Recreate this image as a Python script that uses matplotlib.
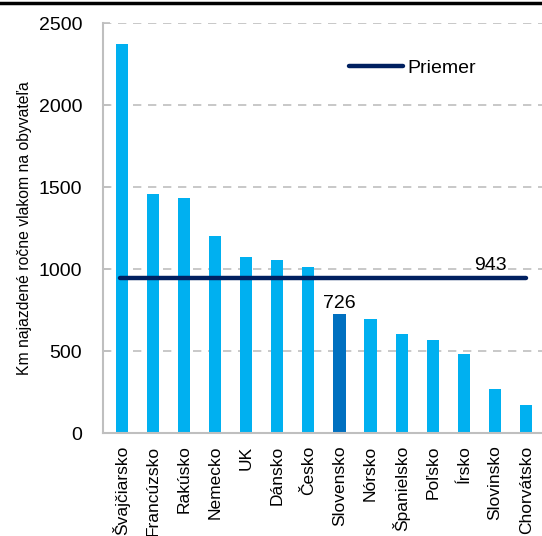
import matplotlib.pyplot as plt
import numpy as np

plt.rcParams['font.family'] = ['Liberation Sans', 'DejaVu Sans']

countries = ['Švajčiarsko', 'Francúzsko', 'Rakúsko', 'Nemecko', 'UK', 'Dánsko',
             'Česko', 'Slovensko', 'Nórsko', 'Španielsko', 'Poľsko', 'Írsko',
             'Slovinsko', 'Chorvátsko']
km_per_person = [2372, 1457, 1433, 1201, 1073, 1055, 1012, 726, 693, 606,
                 569, 482, 268, 173]
average = 943
highlight = 'Slovensko'

fig = plt.figure(figsize=(5.42, 5.36), dpi=100)
ax = fig.add_axes([0.19, 0.192, 0.81, 0.765])

x = np.arange(len(countries))
colors = ['#0070C0' if c == highlight else '#00B0F0' for c in countries]
ax.bar(x, km_per_person, width=0.39, color=colors, zorder=2)

# average line
ax.plot([x[0] - 0.05, x[-1] + 0.0], [average, average], color='#002060',
        lw=3.2, solid_capstyle='round', zorder=3, label='Priemer')
ax.text(11.85, average + 30, str(average), fontsize=14, ha='center', va='bottom')

hi = countries.index(highlight)
ax.text(x[hi], km_per_person[hi] + 15, str(km_per_person[hi]), fontsize=14,
        ha='center', va='bottom')

ax.set_ylim(0, 2500)
ax.set_xlim(-0.6, len(countries) - 0.49)
ax.set_yticks(np.arange(0, 2501, 500))
ax.tick_params(axis='y', labelsize=14, direction='in', length=5,
               color='#BFBFBF', width=1.2, pad=15)
ax.set_xticks(x)
ax.set_xticklabels(countries, rotation=90, fontsize=12.5)
ax.tick_params(axis='x', length=0, pad=9)

for y in range(500, 2501, 500):
    ax.axhline(y, color='#BFBFBF', lw=1.2, ls=(0, (5, 4)), zorder=1)

for s in ['top', 'right']:
    ax.spines[s].set_visible(False)
for s in ['left', 'bottom']:
    ax.spines[s].set_color('#BFBFBF')
    ax.spines[s].set_linewidth(1.5)

ax.set_ylabel('Km najazdené ročne vlakom na obyvateľa', fontsize=11.3, labelpad=5)

ax.legend(loc='upper left', bbox_to_anchor=(0.52, 0.955), frameon=False,
          fontsize=14, handlelength=2.8, handletextpad=0.2)

# black rule at top of the figure
fig.add_artist(plt.Line2D([0, 1], [0.994, 0.994], color='black', lw=2.5))

fig.savefig('out.png', dpi=100)
